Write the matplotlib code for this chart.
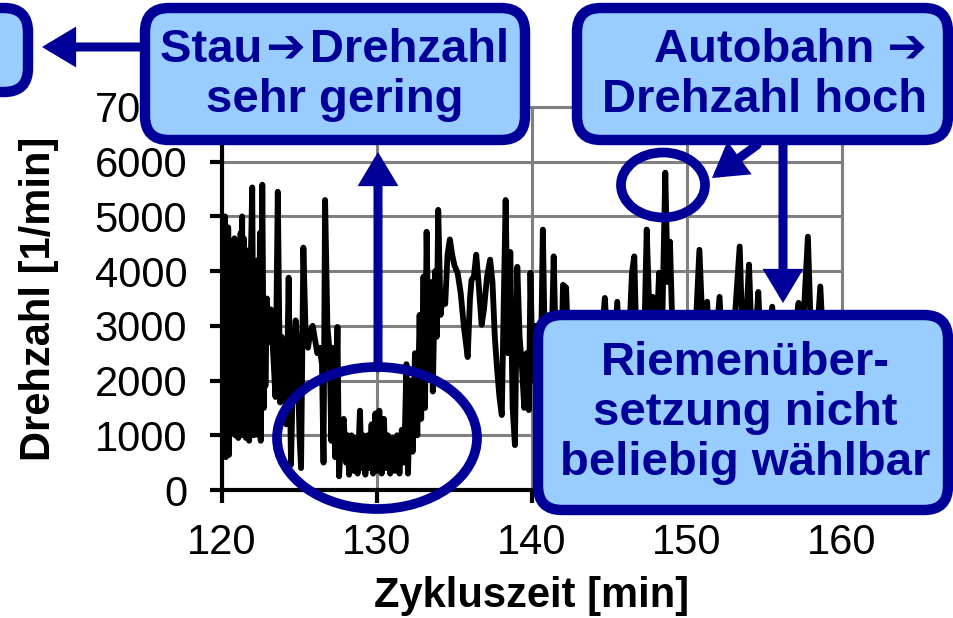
import matplotlib.pyplot as plt
from matplotlib.patches import FancyBboxPatch, Ellipse, FancyArrowPatch, ArrowStyle

plt.rcParams['font.family'] = ['Liberation Sans', 'DejaVu Sans']

# Drehzahlverlauf im Zyklus (Zeit in min, Drehzahl in 1/min)
zeit = [120.0, 120.05, 120.1, 120.15, 120.2, 120.25, 120.3, 120.35, 120.4, 120.45,
        120.5, 120.55, 120.6, 120.65, 120.7, 120.75, 120.8, 120.85, 120.9, 120.95,
        121.0, 121.05, 121.1, 121.15, 121.2, 121.25, 121.3, 121.35, 121.4, 121.45,
        121.5, 121.55, 121.6, 121.65, 121.7, 121.75, 121.85, 121.95, 122.05, 122.1,
        122.15, 122.2, 122.25, 122.3, 122.35, 122.45, 122.5, 122.6, 122.7, 122.75,
        122.8, 122.9,
        123.0, 123.15, 123.3, 123.45, 123.6, 123.75, 123.85, 124.0, 124.15, 124.3,
        124.45, 124.6, 124.75, 124.85, 125.0, 125.1, 125.25, 125.4, 125.55, 125.7,
        125.85, 126.0, 126.15, 126.3, 126.45, 126.55, 126.65, 126.8, 126.95, 127.05,
        127.15, 127.3, 127.45, 127.55, 127.7, 127.85, 128.0, 128.1, 128.2, 128.35,
        128.5, 128.6, 128.75, 128.9, 129.0, 129.1, 129.25, 129.4, 129.5, 129.65,
        129.75, 129.9, 130.0, 130.15, 130.3, 130.45, 130.55, 130.7, 130.85, 131.0,
        131.15, 131.3, 131.45, 131.6, 131.75, 131.9, 132.0, 132.15, 132.3, 132.45,
        132.6, 132.75, 132.85, 133.0, 133.1, 133.2, 133.35, 133.5, 133.6, 133.75,
        133.85, 133.95, 134.1, 134.25, 134.4, 134.55, 134.7, 134.85, 135.0, 135.2,
        135.4, 135.6, 135.85, 136.0, 136.1, 136.25, 136.4, 136.55, 136.75, 136.9,
        137.1, 137.3, 137.45, 137.6, 137.75, 137.9, 138.05, 138.15, 138.3, 138.45,
        138.6, 138.75, 138.9, 139.05, 139.2, 139.35, 139.5, 139.65, 139.8, 139.9,
        140.05, 140.2, 140.35, 140.55, 140.7, 140.85, 141.0, 141.2, 141.4, 141.55,
        141.7, 141.9, 142.0, 142.2, 142.35, 142.6, 143.0, 143.3, 143.7, 144.1,
        144.5, 144.7, 144.9, 145.2, 145.5, 145.7, 146.0, 146.3, 146.45, 146.6,
        146.75, 147.0, 147.2, 147.4, 147.6, 147.8, 148.0, 148.2, 148.4, 148.6,
        148.75, 148.9, 149.1, 149.4, 149.7, 150.1, 150.5, 150.8, 151.0, 151.3,
        151.5, 151.8, 152.1, 152.3, 152.6, 153.0, 153.4, 153.6, 153.8, 154.0,
        154.2, 154.4, 154.6, 154.8, 155.1, 155.5, 155.7, 156.0, 156.3, 156.6,
        157.0, 157.2, 157.4, 157.8, 158.0, 158.3, 158.6, 158.8]
drehzahl = [4200, 900, 4900, 700, 5000, 600, 4500, 1000, 4800, 640,
            3800, 1100, 4300, 1300, 4000, 1600, 4600, 1000, 4400, 1200,
            4500, 950, 4300, 1100, 4700, 1000, 5000, 1300, 4600, 1500,
            4400, 950, 4200, 1000, 3900, 900, 4100, 5530, 1000, 3800,
            1100, 3600, 1200, 4200, 1000, 4700, 900, 5580, 1500, 3400,
            1900, 3500,
            2700, 3300, 2500, 1700, 5450, 1600, 2800, 2400, 1200, 3880,
            460, 2400, 3100, 2700, 1000, 400, 4430, 2800, 2600, 2900,
            3000, 2750, 2500, 2600, 2300, 500, 5300, 3000, 2500, 900,
            2600, 600, 2980, 250, 1000, 1300, 500, 1000, 280, 1000,
            350, 950, 300, 1450, 400, 1000, 280, 1000, 400, 1200,
            300, 1400, 350, 1450, 300, 1300, 400, 1000, 300, 950,
            350, 1000, 300, 1100, 500, 2300, 300, 2000, 700, 2500,
            1000, 3200, 1300, 3900, 1500, 4720, 2200, 3800, 1800, 4000,
            2800, 5120, 3200, 3600, 3400, 4300, 4580, 4300, 4100, 3970,
            3600, 3000, 2430, 3500, 3840, 3900, 4300, 3800, 3020, 3300,
            3900, 4210, 3800, 2800, 2200, 1700, 1370, 3000, 5300, 2500,
            4350, 1500, 820, 4080, 2800, 2250, 1500, 2500, 1460, 3970,
            2000, 3000, 2500, 1800, 4760, 2200, 2600, 1900, 4270, 2400,
            3200, 2500, 3750, 3700, 2500, 1800, 2600, 1600, 2400, 2000,
            2800, 3510, 2500, 2000, 3440, 2200, 2600, 3000, 3970, 4270,
            2500, 2800, 2200, 4760, 3000, 3530, 2600, 3970, 3000, 5800,
            3800, 4540, 2500, 2000, 2800, 2200, 2600, 4390, 3000, 3440,
            2300, 2500, 3530, 2400, 2000, 2800, 4450, 2600, 3000, 4120,
            2500, 2700, 3620, 2300, 2600, 3350, 2400, 2100, 2800, 2500,
            3000, 3420, 2500, 4630, 2800, 2400, 3720, 2600]

x_ticks = [120, 130, 140, 150, 160]
y_ticks = [0, 1000, 2000, 3000, 4000, 5000, 6000, 7000]

DUNKELBLAU = '#000099'
HELLBLAU = '#99CCFF'

fig = plt.figure(figsize=(9.54, 6.18), dpi=100)
ax = fig.add_axes([222 / 954, 1 - 490 / 618, 620 / 954, 383 / 618])

ax.grid(True, color='#808080', linewidth=2.2, zorder=0)
ax.set_axisbelow(True)
ax.plot(zeit, drehzahl, color='black', linewidth=4.2,
        solid_joinstyle='round', solid_capstyle='round', zorder=3)

ax.set_xlim(120, 160)
ax.set_ylim(0, 7000)
ax.set_xticks(x_ticks)
ax.set_yticks(y_ticks)
ax.tick_params(axis='both', direction='out', length=9, width=3,
               labelsize=30, color='black')
ax.tick_params(axis='y', pad=16)
ax.tick_params(axis='x', pad=15)

for s in ['top', 'right']:
    ax.spines[s].set_color('#808080')
    ax.spines[s].set_linewidth(2.2)
for s in ['left', 'bottom']:
    ax.spines[s].set_linewidth(3)
    ax.spines[s].set_zorder(4)

ax.set_xlabel('Zykluszeit [min]', fontsize=30, fontweight='bold', labelpad=9)
ax.set_ylabel('Drehzahl [1/min]', fontsize=30, fontweight='bold', labelpad=26)

# Hilfsfunktion: Pixel (von oben links) -> Zoll fuer dpi_scale_trans
H = 618


def pos(x, y):
    return (x / 100, (H - y) / 100)


tr = fig.dpi_scale_trans


def kasten(x0, y0, x1, y1):
    p = FancyBboxPatch(pos(x0, y1), (x1 - x0) / 100, (y1 - y0) / 100,
                       boxstyle='round,pad=0,rounding_size=0.24',
                       facecolor=HELLBLAU, edgecolor=DUNKELBLAU,
                       linewidth=7.5, transform=tr, zorder=5)
    fig.add_artist(p)


def pfeil(a, b):
    st = ArrowStyle('-|>', head_length=15, head_width=9)
    p = FancyArrowPatch(pos(*a), pos(*b), arrowstyle=st, mutation_scale=1,
                        color=DUNKELBLAU, linewidth=6.5, shrinkA=0, shrinkB=0,
                        transform=tr, zorder=6, joinstyle='miter')
    fig.add_artist(p)


def ellipse(cx, cy, w, h):
    e = Ellipse(pos(cx, cy), w / 100, h / 100, facecolor='none',
                edgecolor=DUNKELBLAU, linewidth=7, transform=tr, zorder=6)
    fig.add_artist(e)


# Kaesten
kasten(-60, 8, 28, 92)
kasten(145, 8, 525, 140)
kasten(577, 8, 948, 140)
kasten(538, 315, 948, 510)

# Ellipsen
ellipse(377, 438, 200, 142)
ellipse(663, 185, 84, 65)

# Pfeile
pfeil((145, 47), (42, 47))
pfeil((378, 368), (378, 152))
pfeil((757, 145), (712, 178))
pfeil((783, 145), (783, 303))

txt = dict(fontsize=34, fontweight='bold', color=DUNKELBLAU, transform=tr,
           zorder=7, linespacing=1.18)
fig.text(*pos(335, 75), 'Stau\u200a\u2794\u200aDrehzahl\nsehr gering',
         ha='center', va='center', multialignment='center', **txt)
fig.text(*pos(927, 75), 'Autobahn \u2794\nDrehzahl hoch', ha='right',
         va='center', multialignment='right', **txt)
fig.text(*pos(745, 413), 'Riemenüber-\nsetzung nicht\nbeliebig wählbar',
         ha='center', va='center', multialignment='center', **txt)

fig.savefig('out.png', dpi=100)
